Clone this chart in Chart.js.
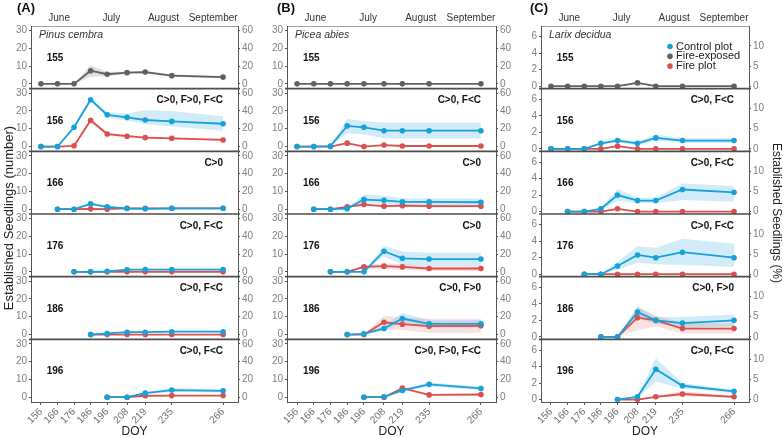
<!DOCTYPE html>
<html lang="en">
<head>
<meta charset="UTF-8">
<title>Established seedlings by cohort</title>
<script src="https://cdn.jsdelivr.net/npm/chart.js"></script>
<style>
    html, body { margin: 0; padding: 0; background: #fff; }
    body { width: 783px; height: 438px; position: relative; overflow: hidden; }
    canvas { position: absolute; top: 0; }
    #colA { left: 0; }
    #colB { left: 256px; }
    #colC { left: 513px; }
</style>
</head>
<body>
<canvas id="colA" width="256" height="438"></canvas>
<canvas id="colB" width="257" height="438"></canvas>
<canvas id="colC" width="270" height="438"></canvas>

<script>
// sampling days (DOY) and emergence cohorts
const doy = [156, 166, 176, 186, 196, 208, 219, 235, 266];
const cohorts = [155, 156, 166, 176, 186, 196];
const months = ['June', 'July', 'August', 'September'];
const monthDoy = [167, 198.5, 230, 260];

const ticksNumberAB = [0, 10, 20, 30];
const ticksPctAB = [0, 20, 40, 60];
const ticksNumberC = [0, 2, 4, 6];
const ticksPctC = [0, 5, 10];

// Pinus cembra
const pinusExposed   = [0, 0, 0, 7.4, 5.4, 6.3, 6.6, 4.6, 3.8];
const pinusExposedLo = [0, 0, 0, 4.0, 4.4, 5.6, 5.9, 4.0, 3.2];
const pinusExposedHi = [0, 0, 0, 10.4, 6.6, 7.0, 7.3, 5.2, 4.4];
const pinusControl = [
    [0, 0, 10.8, 26.3, 17.8, 16.4, 14.9, 14.1, 12.8],
    [null, 0, 0, 3.0, 1.3, 0.4, 0.2, 0.5, 0.5],
    [null, null, 0, 0, 0.3, 1.2, 1.3, 1.3, 1.3],
    [null, null, null, 0, 0.6, 1.3, 1.3, 1.6, 1.6],
    [null, null, null, null, 0, 0, 2.3, 4.0, 3.6]
];
const pinusControlLo = [
    [0, 0, 9.8, 25.0, 16.4, 14.5, 12.6, 11.2, 8.8],
    [null, 0, 0, 2.2, 0.8, 0.1, 0, 0.3, 0.3],
    [null, null, 0, 0, 0.1, 0.8, 0.9, 0.9, 0.9],
    [null, null, null, 0, 0.3, 0.9, 0.9, 1.2, 1.2],
    [null, null, null, null, 0, 0, 1.8, 3.0, 2.7]
];
const pinusControlHi = [
    [0, 0, 11.8, 27.6, 19.2, 18.6, 20.4, 20.0, 17.0],
    [null, 0, 0, 3.8, 1.8, 0.7, 0.4, 0.7, 0.7],
    [null, null, 0, 0, 0.5, 1.6, 1.7, 1.7, 1.7],
    [null, null, null, 0, 0.9, 1.7, 1.7, 2.0, 2.0],
    [null, null, null, null, 0, 0, 2.8, 5.0, 4.5]
];
const pinusFire = [
    [0, 0, 0.4, 14.7, 7.0, 5.8, 5.0, 4.6, 3.7],
    [null, 0, 0, 0.2, 0, 0.5, 0.5, 0.5, 0.5],
    [null, null, 0, 0, 0, 0, 0, 0, 0],
    [null, null, null, 0, 0, 0, 0, 0, 0],
    [null, null, null, null, 0, 0, 0.8, 0.9, 0.9]
];
const pinusFireLo = [
    [0, 0, 0.2, 13.4, 6.0, 5.0, 4.3, 4.0, 3.1],
    [null, 0, 0, 0.1, 0, 0.3, 0.3, 0.3, 0.3],
    [null, null, 0, 0, 0, 0, 0, 0, 0],
    [null, null, null, 0, 0, 0, 0, 0, 0],
    [null, null, null, null, 0, 0, 0.5, 0.6, 0.6]
];
const pinusFireHi = [
    [0, 0, 0.6, 16.0, 8.0, 6.6, 5.7, 5.2, 4.3],
    [null, 0, 0, 0.3, 0, 0.7, 0.7, 0.7, 0.7],
    [null, null, 0, 0, 0, 0, 0, 0, 0],
    [null, null, null, 0, 0, 0, 0, 0, 0],
    [null, null, null, null, 0, 0, 1.1, 1.2, 1.2]
];
const pinusTests = ['C>0, F>0, F<C', 'C>0', 'C>0, F<C', 'C>0, F<C', 'C>0, F<C'];

// Picea abies
const piceaExposed   = [0, 0, 0, 0, 0, 0, 0, 0, 0];
const piceaExposedLo = [0, 0, 0, 0, 0, 0, 0, 0, 0];
const piceaExposedHi = [0, 0, 0, 0, 0, 0, 0, 0, 0];
const piceaControl = [
    [0, 0, 0.2, 11.6, 10.8, 8.9, 8.9, 8.9, 8.9],
    [null, 0, 0, 0.3, 5.4, 5.0, 4.1, 4.1, 3.9],
    [null, null, 0, 0, 0, 11.6, 7.6, 7.2, 7.2],
    [null, null, null, 0, 0.4, 3.4, 9.0, 6.0, 6.0],
    [null, null, null, null, 0, 0.2, 3.8, 7.2, 4.9]
];
const piceaControlLo = [
    [0, 0, 0, 7.5, 6.8, 4.6, 4.5, 4.5, 4.5],
    [null, 0, 0, 0.1, 3.2, 3.0, 2.2, 2.1, 2.0],
    [null, null, 0, 0, 0, 8.8, 4.0, 3.3, 3.3],
    [null, null, null, 0, 0.2, 2.0, 6.6, 4.0, 4.0],
    [null, null, null, null, 0, 0, 3.0, 6.0, 4.0]
];
const piceaControlHi = [
    [0, 0, 0.4, 15.6, 14.2, 13.5, 13.5, 13.5, 13.5],
    [null, 0, 0, 0.5, 8.2, 7.6, 6.2, 6.1, 6.0],
    [null, null, 0, 0, 0, 14.6, 11.4, 10.8, 10.8],
    [null, null, null, 0, 0.6, 4.8, 12.2, 8.0, 8.0],
    [null, null, null, null, 0, 0.4, 4.6, 8.4, 5.8]
];
const piceaFire = [
    [0, 0, 0, 1.9, 0, 0.8, 0.3, 0.3, 0.3],
    [null, 0, 0, 1.3, 2.6, 1.7, 2.0, 1.7, 1.7],
    [null, null, 0, 0, 2.8, 3.2, 2.8, 1.9, 1.9],
    [null, null, null, 0, 0, 6.9, 5.8, 4.7, 4.9],
    [null, null, null, null, 0, 0, 5.1, 1.3, 1.5]
];
const piceaFireLo = [
    [0, 0, 0, 1.3, 0, 0.5, 0.1, 0.1, 0.1],
    [null, 0, 0, 0.8, 1.8, 1.0, 1.2, 0.9, 0.9],
    [null, null, 0, 0, 1.8, 1.7, 1.2, 0.5, 0.5],
    [null, null, null, 0, 0, 3.0, 2.5, 1.0, 1.0],
    [null, null, null, null, 0, 0, 4.3, 0.8, 1.0]
];
const piceaFireHi = [
    [0, 0, 0, 2.5, 0, 1.1, 0.5, 0.5, 0.5],
    [null, 0, 0, 1.8, 3.4, 2.4, 2.8, 2.5, 2.5],
    [null, null, 0, 0, 3.8, 4.7, 4.4, 3.3, 3.3],
    [null, null, null, 0, 0, 10.5, 9.5, 8.8, 8.8],
    [null, null, null, null, 0, 0, 5.9, 1.8, 2.0]
];
const piceaTests = ['C>0, F<C', 'C>0', 'C>0', 'C>0, F>0', 'C>0, F>0, F<C'];

// Larix decidua
const larixExposed   = [0, 0, 0, 0, 0, 0.4, 0, 0, 0];
const larixExposedLo = [0, 0, 0, 0, 0, 0.3, 0, 0, 0];
const larixExposedHi = [0, 0, 0, 0, 0, 0.5, 0, 0, 0];
const larixControl = [
    [0, 0, 0, 0.67, 1.0, 0.67, 1.33, 1.0, 1.0],
    [null, 0, 0, 0.33, 2.0, 1.33, 1.33, 2.67, 2.33],
    [null, null, 0, 0, 1.0, 2.33, 2.0, 2.67, 2.0],
    [null, null, null, 0, 0, 3.0, 2.0, 1.67, 2.0],
    [null, null, null, null, 0, 0.33, 3.67, 1.67, 1.0]
];
const larixControlLo = [
    [0, 0, 0, 0.5, 0.8, 0.4, 1.0, 0.7, 0.7],
    [null, 0, 0, 0.2, 1.3, 1.0, 1.0, 1.4, 1.2],
    [null, null, 0, 0, 0.5, 1.4, 1.2, 1.1, 0.9],
    [null, null, null, 0, 0, 2.3, 1.6, 1.1, 1.3],
    [null, null, null, null, 0, 0.2, 2.2, 1.3, 0.8]
];
const larixControlHi = [
    [0, 0, 0, 0.8, 1.2, 0.9, 1.7, 1.3, 1.3],
    [null, 0, 0, 0.5, 2.7, 1.7, 1.7, 3.4, 3.1],
    [null, null, 0, 0, 1.5, 3.4, 3.2, 4.3, 3.7],
    [null, null, null, 0, 0, 3.7, 2.4, 2.4, 2.7],
    [null, null, null, null, 0, 0.5, 5.0, 2.0, 1.2]
];
const larixFire = [
    [0, 0, 0, 0, 0.33, 0, 0, 0, 0],
    [null, 0, 0, 0, 0.33, 0, 0, 0, 0],
    [null, null, 0, 0, 0, 0, 0, 0, 0],
    [null, null, null, 0, 0, 2.33, 2.0, 1.0, 1.0],
    [null, null, null, null, 0, 0, 0.33, 0.67, 0.33]
];
const larixFireLo = [
    [0, 0, 0, 0, 0.2, 0, 0, 0, 0],
    [null, 0, 0, 0, 0.2, 0, 0, 0, 0],
    [null, null, 0, 0, 0, 0, 0, 0, 0],
    [null, null, null, 0, 0, 0.8, 1.3, 0.4, 0.4],
    [null, null, null, null, 0, 0, 0.2, 0.4, 0.2]
];
const larixFireHi = [
    [0, 0, 0, 0, 0.45, 0, 0, 0, 0],
    [null, 0, 0, 0, 0.45, 0, 0, 0, 0],
    [null, null, 0, 0, 0, 0, 0, 0, 0],
    [null, null, null, 0, 0, 3.6, 2.6, 1.7, 1.6],
    [null, null, null, null, 0, 0, 0.5, 1.0, 0.5]
];
const larixTests = ['C>0, F<C', 'C>0, F<C', 'C>0, F<C', 'C>0, F>0', 'C>0, F<C'];

Chart.defaults.font.family = '"Liberation Sans", Arial, sans-serif';
Chart.defaults.font.size = 10;
Chart.defaults.animation = false;

const BLUE = '#17a1da', RED = '#d9504f', GRAY = '#606060';
const BLUE_BAND = 'rgba(23,161,218,0.2)', RED_BAND = 'rgba(217,80,79,0.17)', GRAY_BAND = 'rgba(96,96,96,0.2)';
const AXIS = '#555';
const FONT = '"Liberation Sans", Arial, sans-serif';

function pts(arr) {
    return doy.map((d, i) => arr[i] == null ? null : { x: d, y: arr[i] }).filter(p => p);
}

function band(lo, hi, color, axis) {
    return [
        { data: pts(lo), yAxisID: axis, borderColor: 'rgba(0,0,0,0)', borderWidth: 1, pointRadius: 0, fill: false, order: 5 },
        { data: pts(hi), yAxisID: axis, borderColor: 'rgba(0,0,0,0)', borderWidth: 1, pointRadius: 0, fill: '-1', backgroundColor: color, order: 5 }
    ];
}

function line(mean, color, axis, order) {
    return {
        data: pts(mean), yAxisID: axis, borderColor: color, backgroundColor: color,
        borderWidth: 1.8, pointRadius: 2.8, pointBorderWidth: 0, pointBackgroundColor: color,
        fill: false, order: order
    };
}

function overlay(sp) {
    return {
        id: 'overlay',
        afterDraw(chart) {
            const ctx = chart.ctx, area = chart.chartArea, xs = chart.scales.x;
            ctx.save();
            // separators between cohort panels
            ctx.strokeStyle = '#4d4d4d';
            ctx.lineWidth = 1.6;
            for (let r = 0; r < 5; r++) {
                const y = chart.scales['y' + r].bottom;
                ctx.beginPath();
                ctx.moveTo(area.left - 2, y);
                ctx.lineTo(area.right + 2, y);
                ctx.stroke();
            }
            ctx.textBaseline = 'middle';
            // month names above the first panel
            ctx.font = '10px ' + FONT;
            ctx.fillStyle = '#333';
            ctx.textAlign = 'center';
            months.forEach((m, i) => ctx.fillText(m, xs.getPixelForValue(monthDoy[i]), 18));
            ctx.fillStyle = '#111';
            for (let r = 0; r < 6; r++) {
                const s = chart.scales['y' + r];
                const h = s.bottom - s.top;
                ctx.font = 'bold 10px ' + FONT;
                ctx.textAlign = 'center';
                ctx.fillText(String(cohorts[r]), xs.getPixelForValue(164.5), s.top + 0.515 * h);
                if (r > 0) {
                    ctx.textAlign = 'right';
                    ctx.fillText(sp.tests[r - 1], area.right - 15, s.top + 0.19 * h);
                }
            }
            // species name
            ctx.font = 'italic 10.5px ' + FONT;
            ctx.fillStyle = '#333';
            ctx.textAlign = 'left';
            ctx.fillText(sp.species, area.left + 8, area.top + 9);
            // panel letter
            ctx.font = 'bold 13px ' + FONT;
            ctx.fillStyle = '#111';
            ctx.fillText(sp.letter, sp.letterX, 8);
            // x title
            ctx.font = '12px ' + FONT;
            ctx.fillStyle = '#222';
            ctx.textAlign = 'center';
            ctx.fillText('DOY', (area.left + area.right) / 2, 432);
            if (sp.leftTitle) {
                ctx.save();
                ctx.translate(9, 218);
                ctx.rotate(-Math.PI / 2);
                ctx.font = '13px ' + FONT;
                ctx.fillText('Established Seedlings (number)', 0, 0);
                ctx.restore();
            }
            if (sp.rightTitle) {
                ctx.save();
                ctx.translate(chart.width - 7, 213);
                ctx.rotate(Math.PI / 2);
                ctx.font = '12px ' + FONT;
                ctx.fillText('Established Seedlings (%)', 0, 0);
                ctx.restore();
            }
            if (sp.legend) {
                const items = [['Control plot', BLUE], ['Fire-exposed', GRAY], ['Fire plot', RED]];
                ctx.font = '11px ' + FONT;
                ctx.textAlign = 'left';
                items.forEach((it, i) => {
                    const y = 46.5 + i * 9.8;
                    ctx.fillStyle = it[1];
                    ctx.beginPath();
                    ctx.arc(157, y, 2.8, 0, Math.PI * 2);
                    ctx.fill();
                    ctx.fillStyle = '#222';
                    ctx.fillText(it[0], 163, y);
                });
            }
            ctx.restore();
        }
    };
}

function makeColumn(id, sp) {
    const datasets = [];
    datasets.push(...band(sp.exposedLo, sp.exposedHi, GRAY_BAND, 'y0'));
    datasets.push(line(sp.exposed, GRAY, 'y0', 1));
    for (let r = 1; r < 6; r++) {
        const ax = 'y' + r;
        datasets.push(...band(sp.controlLo[r - 1], sp.controlHi[r - 1], BLUE_BAND, ax));
        datasets.push(...band(sp.fireLo[r - 1], sp.fireHi[r - 1], RED_BAND, ax));
        datasets.push(line(sp.fire[r - 1], RED, ax, 2));
        datasets.push(line(sp.control[r - 1], BLUE, ax, 1));
    }

    const scales = {
        x: {
            type: 'linear', position: 'bottom', min: 150, max: 275,
            afterBuildTicks: s => { s.ticks = doy.map(v => ({ value: v })); },
            afterFit: s => { s.height = 36; },
            ticks: { minRotation: 45, maxRotation: 45, autoSkip: false, color: '#6e6e6e', padding: 1, font: { size: 10 } },
            grid: { drawOnChartArea: false, tickLength: 3, color: AXIS },
            border: { color: AXIS }
        },
        xTop: {
            type: 'linear', position: 'top', min: 150, max: 275,
            afterFit: s => { s.height = 26; },
            ticks: { display: false },
            grid: { display: false },
            border: { display: true, color: '#a0a0a0' }
        }
    };
    // left axes: the later-defined axis sits on top of the stack
    for (let r = 5; r >= 0; r--) {
        scales['y' + r] = {
            type: 'linear', position: 'left', stack: 'left', stackWeight: 1,
            min: sp.yMin, max: sp.yMax,
            afterBuildTicks: s => { s.ticks = sp.leftTicks.map(v => ({ value: v })); },
            afterFit: s => { s.width = sp.leftW; },
            ticks: { color: '#808080', padding: 2, autoSkip: false, font: { size: 10 } },
            grid: { drawOnChartArea: false, tickLength: 2, color: AXIS },
            border: { color: AXIS }
        };
    }
    for (let r = 0; r < 6; r++) {
        scales['r' + r] = {
            type: 'linear', position: 'right', stack: 'right', stackWeight: 1,
            min: sp.yMin * sp.pct, max: sp.yMax * sp.pct,
            afterBuildTicks: s => { s.ticks = sp.rightTicks.map(v => ({ value: v })); },
            afterFit: s => { s.width = sp.rightW; },
            ticks: { color: '#808080', padding: 2, autoSkip: false, font: { size: 10 } },
            grid: { drawOnChartArea: false, tickLength: 2, color: AXIS },
            border: { color: AXIS }
        };
    }

    new Chart(document.getElementById(id), {
        type: 'line',
        data: { datasets },
        options: {
            responsive: false,
            events: [],
            layout: { padding: 0 },
            plugins: { legend: { display: false }, tooltip: { enabled: false } },
            scales
        },
        plugins: [overlay(sp)]
    });
}

makeColumn('colA', {
    species: 'Pinus cembra', letter: '(A)', letterX: 17, leftTitle: true,
    exposed: pinusExposed, exposedLo: pinusExposedLo, exposedHi: pinusExposedHi,
    control: pinusControl, controlLo: pinusControlLo, controlHi: pinusControlHi,
    fire: pinusFire, fireLo: pinusFireLo, fireHi: pinusFireHi, tests: pinusTests,
    yMin: -2.7, yMax: 32.5, pct: 2, leftTicks: ticksNumberAB, rightTicks: ticksPctAB,
    leftW: 31, rightW: 18
});
makeColumn('colB', {
    species: 'Picea abies', letter: '(B)', letterX: 21,
    exposed: piceaExposed, exposedLo: piceaExposedLo, exposedHi: piceaExposedHi,
    control: piceaControl, controlLo: piceaControlLo, controlHi: piceaControlHi,
    fire: piceaFire, fireLo: piceaFireLo, fireHi: piceaFireHi, tests: piceaTests,
    yMin: -2.7, yMax: 32.5, pct: 2, leftTicks: ticksNumberAB, rightTicks: ticksPctAB,
    leftW: 31, rightW: 17
});
makeColumn('colC', {
    species: 'Larix decidua', letter: '(C)', letterX: 17, rightTitle: true, legend: true,
    exposed: larixExposed, exposedLo: larixExposedLo, exposedHi: larixExposedHi,
    control: larixControl, controlLo: larixControlLo, controlHi: larixControlHi,
    fire: larixFire, fireLo: larixFireLo, fireHi: larixFireHi, tests: larixTests,
    yMin: -0.3, yMax: 7.3, pct: 2.05, leftTicks: ticksNumberC, rightTicks: ticksPctC,
    leftW: 28, rightW: 34
});
</script>
</body>
</html>
